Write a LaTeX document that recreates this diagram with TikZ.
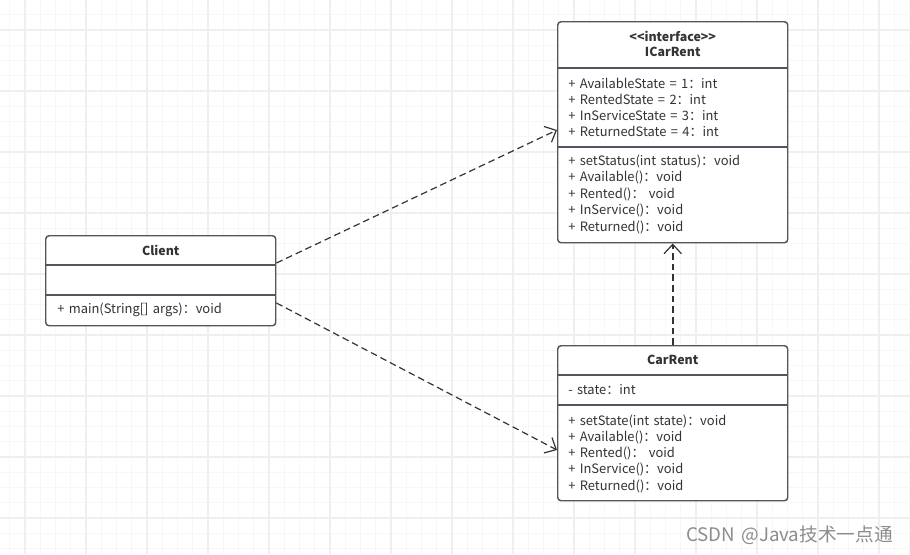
\documentclass[tikz,border=0pt]{standalone}
\usepackage{fontspec}
\setmainfont{Noto Sans CJK SC}[WordSpace=1.5]
\usetikzlibrary{arrows.meta,calc}

\definecolor{umlline}{HTML}{50555E}
\definecolor{umltext}{HTML}{333333}
\definecolor{gridminor}{HTML}{F7F7F7}
\definecolor{gridmajor}{HTML}{EFEFEF}

\tikzset{
	umlbox/.style={draw=umlline, line width=1.1pt, rounded corners=2.5pt, fill=white,
		minimum width=172.5pt, inner sep=0pt, anchor=north west},
	umlsep/.style={draw=umlline, line width=1.1pt},
	member/.style={anchor=west, inner sep=0pt, text=umltext, font=\fontsize{9.7pt}{10pt}\selectfont},
	title/.style={inner sep=0pt, text=umltext, font=\fontsize{9.3pt}{10pt}\selectfont\bfseries},
	dep/.style={draw=umltext, line width=0.9pt, dash pattern=on 5pt off 3pt,
		-{Straight Barb[length=7pt, width=13pt, line width=0.9pt]}},
}

\begin{document}
\begin{tikzpicture}[x=0.75pt, y=-0.75pt]
	\useasboundingbox (0,0) rectangle (910,554);
	% grid
	\foreach \i in {0,...,59} \draw[gridminor, line width=0.75pt] ({9.75+15.25*\i},0) -- ++(0,554);
	\foreach \i in {0,...,36} \draw[gridminor, line width=0.75pt] (0,{14.75+15.25*\i}) -- ++(910,0);
	\foreach \i in {0,...,14} \draw[gridmajor, line width=1.2pt] ({25+61*\i},0) -- ++(0,554);
	\foreach \i in {0,...,8} \draw[gridmajor, line width=1.2pt] (0,{30+61*\i}) -- ++(910,0);

	% ICarRent
	\node[umlbox, minimum height=165.75pt] (icarrent) at (557,21) {};
	\draw[umlsep] ($(icarrent.north west)+(0,47)$) -- ($(icarrent.north east)+(0,47)$);
	\draw[umlsep] ($(icarrent.north west)+(0,126)$) -- ($(icarrent.north east)+(0,126)$);
	\node[title] (icarrent-st) at ($(icarrent.north)+(0,15)$) {<{}<interface>{}>};
	\node[title] (icarrent-name) at ($(icarrent.north)+(0,31)$) {ICarRent};
	\foreach \txt [count=\i from 0] in {{+ AvailableState = 1：int},{+ RentedState = 2：int},
		{+ InServiceState = 3：int},{+ ReturnedState = 4：int}}
		\node[member] at ($(icarrent.north west)+(11,62+16.3*\i)$) {\txt};
	\foreach \txt [count=\i from 0] in {{+ setStatus(int status)：void},{+ Available()：void},
		{+ Rented()： void},{+ InService()：void},{+ Returned()：void}}
		\node[member] at ($(icarrent.north west)+(11,140+16.5*\i)$) {\txt};

	% Client
	\node[umlbox, minimum height=67.5pt] (client) at (45,235) {};
	\draw[umlsep] ($(client.north west)+(0,30)$) -- ($(client.north east)+(0,30)$);
	\draw[umlsep] ($(client.north west)+(0,60)$) -- ($(client.north east)+(0,60)$);
	\node[title] (client-name) at ($(client.north)+(0,15)$) {Client};
	\node[member] (client-main) at ($(client.north west)+(12,75)$) {+ main(String[] args)：void};

	% CarRent
	\node[umlbox, minimum height=116.25pt] (carrent) at (557,345) {};
	\draw[umlsep] ($(carrent.north west)+(0,30)$) -- ($(carrent.north east)+(0,30)$);
	\draw[umlsep] ($(carrent.north west)+(0,60)$) -- ($(carrent.north east)+(0,60)$);
	\node[title] (carrent-name) at ($(carrent.north)+(0,15)$) {CarRent};
	\node[member] (carrent-state) at ($(carrent.north west)+(11,45)$) {- state：int};
	\foreach \txt [count=\i from 0] in {{+ setState(int state)：void},{+ Available()：void},
		{+ Rented()： void},{+ InService()：void},{+ Returned()：void}}
		\node[member] at ($(carrent.north west)+(11,76+16.25*\i)$) {\txt};

	% dependencies
	\coordinate (client-out1) at ($(client.north east)+(0,28)$);
	\coordinate (client-out2) at ($(client.north east)+(0,68)$);
	\coordinate (icarrent-in) at ($(icarrent.north west)+(0,109)$);
	\coordinate (carrent-in) at ($(carrent.north west)+(0,105)$);
	\draw[dep] (client-out1) -- (icarrent-in);
	\draw[dep] (client-out2) -- (carrent-in);
	\draw[dep, line width=1.5pt] (carrent.north) -- (icarrent.south);

	% watermark
	\node[anchor=west, inner sep=0pt, text=black!45, font=\fontsize{14pt}{16pt}\selectfont] (mark) at (686,535) {CSDN @Java技术一点通};
\end{tikzpicture}
\end{document}
